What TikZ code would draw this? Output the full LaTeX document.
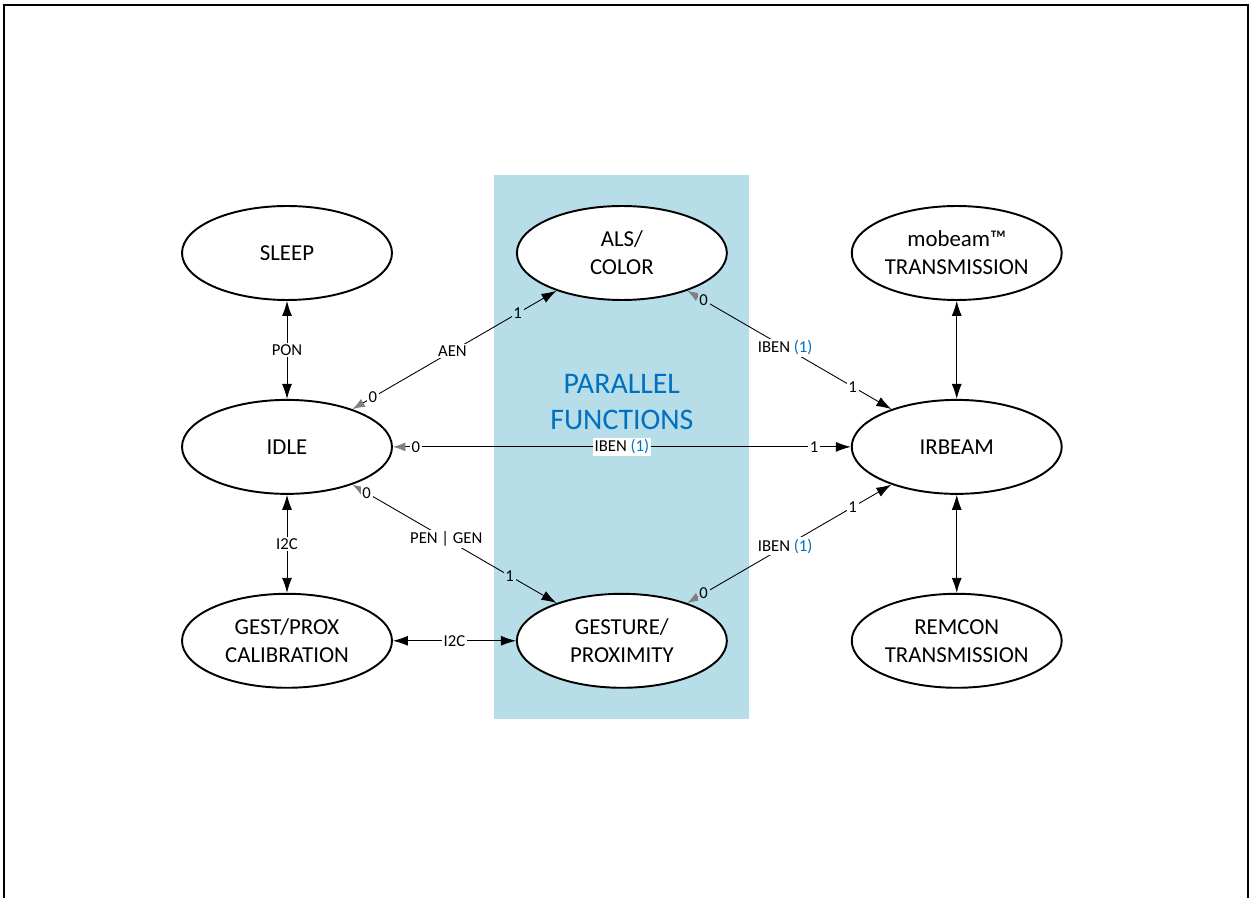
\documentclass[tikz,border=0pt]{standalone}
\usepackage{fontspec}
\setmainfont{Carlito}
\usetikzlibrary{arrows.meta}
\usetikzlibrary{shapes.geometric}
\usetikzlibrary{backgrounds}
\usetikzlibrary{positioning}
\definecolor{bandblue}{HTML}{B7DDE8}
\definecolor{txtblue}{HTML}{0070C0}
\tikzstyle{state} = [ellipse, draw, fill=white, line width=1.1pt,
    minimum width=4.2cm, minimum height=1.88cm, inner sep=0pt, align=center,
    font=\fontsize{13}{16}\selectfont]
\tikzstyle{line} = [draw, line width=0.5pt,
    {Latex[length=3mm,width=2mm]}-{Latex[length=3mm,width=2mm]}]
\tikzstyle{trans} = [draw, line width=0.5pt,
    {Latex[length=2.5mm,width=1.8mm,gray]}-{Latex[length=3mm,width=2mm]}]
\tikzstyle{tag} = [fill=white, inner sep=1pt, font=\fontsize{9.5}{11}\selectfont]
\tikzstyle{btag} = [tag, fill=bandblue]
\newcommand\blueone{\textcolor{txtblue}{(1)}}

\begin{document}
\begin{tikzpicture}[x=0.02cm, y=-0.02cm, node distance=1.96cm and 2.46cm]
	\useasboundingbox (0,0) rectangle (1252,898);
	\draw [line width=1.1pt] (4,898) -- (4,5) -- (1248,5) -- (1248,898);

	\node [state] (sleep) at (287,253) {SLEEP};
	\node [state, below=of sleep] (idle) {IDLE};
	\node [state, below=of idle] (cal) {GEST/PROX\\CALIBRATION};
	\node [state, right=of sleep] (als) {ALS/\\COLOR};
	\node [state, right=of cal] (gest) {GESTURE/\\PROXIMITY};
	\node [state, right=of als] (mob) {mobeam™\\TRANSMISSION};
	\node [state, below=of mob] (irb) {IRBEAM};
	\node [state, below=of irb] (rem) {REMCON\\TRANSMISSION};

	% parallel band behind the middle column
	\begin{scope}[on background layer]
	\node [fill=bandblue, minimum width=5.1cm, minimum height=10.88cm] (band) at (als |- idle) {};
	\end{scope}
	\node [text=txtblue, align=center, font=\fontsize{17}{20.5}\selectfont] (par) at ([yshift=0.9cm]band.center) {PARALLEL\\FUNCTIONS};

	\path [line] (sleep) --node[tag]{PON} (idle);
	\path [line] (idle) --node[tag]{I2C} (cal);
	\path [line] (cal) --node[tag]{I2C} (gest);
	\path [line] (mob) -- (irb);
	\path [line] (irb) -- (rem);

	\path [trans] (idle.30) --node[tag, pos=0.1]{0} node[tag, pos=0.49]{AEN} node[btag, pos=0.81]{1} (als.210);
	\path [trans] (idle) --node[tag, pos=0.05]{0} node[tag]{IBEN \blueone} node[tag, pos=0.92]{1} (irb);
	\path [trans] (idle.-30) --node[tag, pos=0.07]{0} node[tag, pos=0.46]{PEN | GEN} node[btag, pos=0.77]{1} (gest.150);
	\path [trans] (als.-30) --node[btag, pos=0.08]{0} node[tag, pos=0.48]{IBEN \blueone} node[tag, pos=0.81]{1} (irb.150);
	\path [trans] (gest.30) --node[btag, pos=0.08]{0} node[tag, pos=0.48]{IBEN \blueone} node[tag, pos=0.81]{1} (irb.210);
\end{tikzpicture}
\end{document}
